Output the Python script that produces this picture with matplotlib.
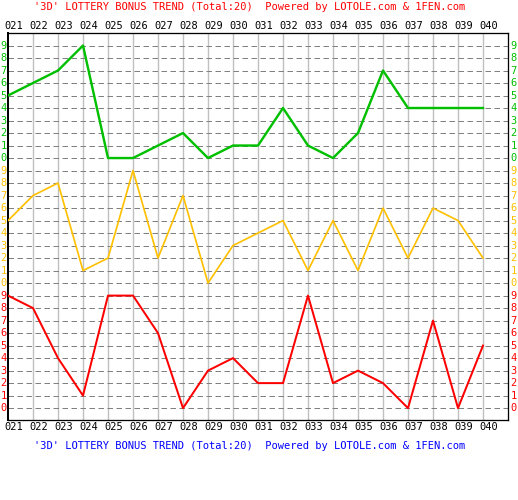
import matplotlib.pyplot as plt
import matplotlib.transforms as mtransforms

# issue numbers and digits per position
issues = ['021', '022', '023', '024', '025', '026', '027', '028', '029', '030',
          '031', '032', '033', '034', '035', '036', '037', '038', '039', '040']
hundreds = [5, 6, 7, 9, 0, 0, 1, 2, 0, 1, 1, 4, 1, 0, 2, 7, 4, 4, 4, 4]
tens = [5, 7, 8, 1, 2, 9, 2, 7, 0, 3, 4, 5, 1, 5, 1, 6, 2, 6, 5, 2]
units = [9, 8, 4, 1, 9, 9, 6, 0, 3, 4, 2, 2, 9, 2, 3, 2, 0, 7, 0, 5]

title = "'3D' LOTTERY BONUS TREND (Total:20)  Powered by LOTOLE.com & 1FEN.com"

GREEN = '#00c000'
YELLOW = '#ffc000'
RED = '#ff0000'
FONT = 'DejaVu Sans Mono'
PX = 0.72  # one pixel in points at dpi 100

plt.rcParams['lines.scale_dashes'] = False

fig = plt.figure(figsize=(5.18, 5.0), dpi=100)
ax = fig.add_axes([8 / 518, 1 - 420 / 500, 500 / 518, 387 / 500])
ax.set_xlim(0, 20)
ax.set_ylim(-0.95, 30.0)
ax.set_xticks([])
ax.set_yticks([])
for s in ax.spines.values():
    s.set_color('black')
    s.set_linewidth(1.3 * PX)
ax.spines['left'].set_linewidth(2 * PX)

# grid: vertical solid, horizontal dashed
for i in range(1, len(issues)):
    ax.axvline(i, color='#c0c0c0', lw=1.4 * PX, zorder=1)
for r in range(30):
    ax.axhline(r, color='#808080', lw=1.0 * PX, dashes=(5.5 * PX, 3.5 * PX), zorder=1.5)

# three bands: units at bottom (rows 0-9), tens (10-19), hundreds (20-29)
bands = [(hundreds, 20, GREEN, 2.4 * PX), (tens, 10, YELLOW, 1.7 * PX), (units, 0, RED, 2.0 * PX)]
x = list(range(len(issues)))
lab = mtransforms.blended_transform_factory(fig.transFigure, ax.transData)
for vals, off, col, lw in bands:
    ax.plot(x, [v + off for v in vals], color=col, lw=lw, zorder=3)
    for d in range(10):
        fig.text(3.5 / 518, d + off, str(d), color=col, fontsize=7.5, family=FONT,
                 ha='center', va='center', transform=lab)
        fig.text(513.5 / 518, d + off, str(d), color=col, fontsize=7.5, family=FONT,
                 ha='center', va='center', transform=lab)

# issue labels top and bottom
for i, s in enumerate(issues):
    xf = (8 + 25 * i + 6) / 518
    fig.text(xf, 1 - 26 / 500, s, fontsize=7.5, family=FONT, ha='center', va='center')
    fig.text(xf, 1 - 426.5 / 500, s, fontsize=7.5, family=FONT, ha='center', va='center')

fig.text(250 / 518, 1 - 7 / 500, title, color='#ff0000', fontsize=7.5, family=FONT,
         ha='center', va='center')
fig.text(250 / 518, 1 - 446 / 500, title, color='#0000ff', fontsize=7.5, family=FONT,
         ha='center', va='center')

fig.savefig('out.png', dpi=100, facecolor='white')
